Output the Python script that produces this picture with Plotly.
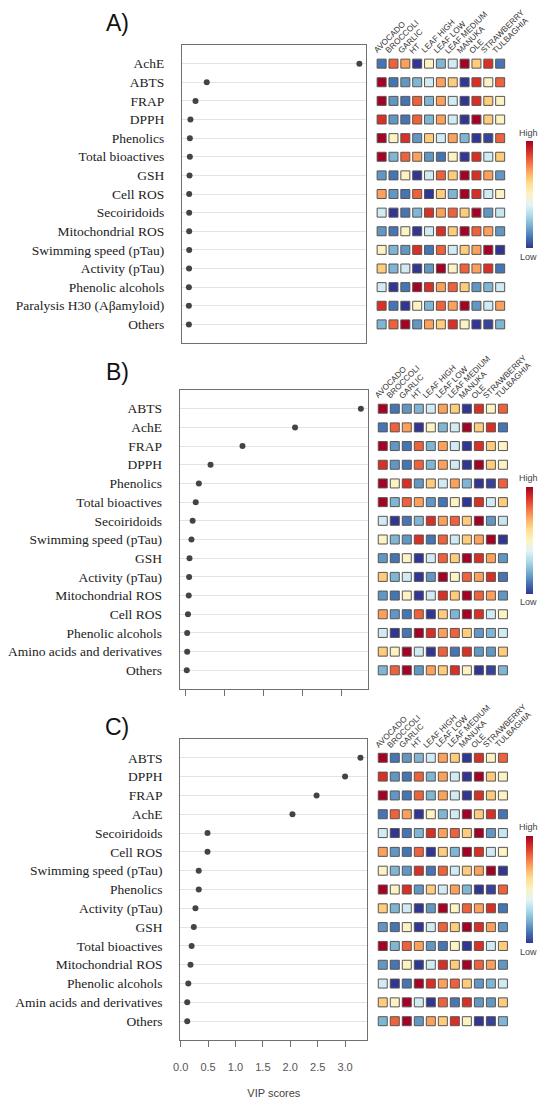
import plotly.graph_objects as go

# the page body adds a margin, so the figure is a bit smaller than the window
OFFX, OFFY = 11, 8
W, H = 550 - 8, 1099 - 8

SAMPLES = ["AVOCADO", "BROCCOLI", "GARLIC", "HT", "LEAF HIGH", "LEAF LOW",
           "LEAF MEDIUM", "MANUKA", "OLE", "STRAWBERRY", "TULBAGHIA"]

# features top -> bottom and VIP scores for each panel
FEAT_A = ["AchE", "ABTS", "FRAP", "DPPH", "Phenolics", "Total bioactives", "GSH",
          "Cell ROS", "Secoiridoids", "Mitochondrial ROS", "Swimming speed (pTau)",
          "Activity (pTau)", "Phenolic alcohols", "Paralysis H30 (Aβamyloid)", "Others"]
VIP_A = [4.43, 0.51, 0.22, 0.09, 0.075, 0.075, 0.067, 0.058, 0.058, 0.058, 0.058,
         0.055, 0.05, 0.05, 0.05]

FEAT_B = ["ABTS", "AchE", "FRAP", "DPPH", "Phenolics", "Total bioactives", "Secoiridoids",
          "Swimming speed (pTau)", "GSH", "Activity (pTau)", "Mitochondrial ROS", "Cell ROS",
          "Phenolic alcohols", "Amino acids and derivatives", "Others"]
VIP_B = [4.49, 2.8, 1.45, 0.63, 0.33, 0.25, 0.17, 0.14, 0.09, 0.08, 0.07, 0.05,
         0.03, 0.03, 0.02]

FEAT_C = ["ABTS", "DPPH", "FRAP", "AchE", "Secoiridoids", "Cell ROS", "Swimming speed (pTau)",
          "Phenolics", "Activity (pTau)", "GSH", "Total bioactives", "Mitochondrial ROS",
          "Phenolic alcohols", "Amin acids and derivatives", "Others"]
VIP_C = [3.28, 3.0, 2.48, 2.04, 0.49, 0.49, 0.33, 0.33, 0.27, 0.24, 0.20, 0.18,
         0.14, 0.12, 0.12]

# relative level per sample (0 = low, 1 = high), same for a feature in every panel
H_ACHE = [0.10, 0.82, 0.72, 0.00, 0.50, 0.22, 0.37, 1.00, 0.64, 0.90, 0.10]
H_ABTS = [1.00, 0.10, 0.16, 0.22, 0.37, 0.72, 0.64, 0.00, 0.90, 0.50, 0.82]
H_FRAP = [1.00, 0.16, 0.10, 0.82, 0.22, 0.72, 0.37, 0.00, 0.90, 0.64, 0.50]
H_DPPH = [0.90, 0.16, 0.10, 0.82, 0.22, 0.72, 0.37, 0.00, 1.00, 0.64, 0.50]
H_PHEN = [1.00, 0.50, 0.90, 0.16, 0.64, 0.37, 0.72, 0.22, 0.00, 0.02, 0.82]
H_TOTAL = [1.00, 0.22, 0.82, 0.72, 0.16, 0.10, 0.50, 0.00, 0.90, 0.37, 0.64]
H_GSH = [0.16, 0.10, 0.50, 0.00, 0.37, 0.82, 0.64, 1.00, 0.90, 0.72, 0.16]
H_CELLROS = [0.72, 0.16, 0.10, 0.82, 0.00, 0.64, 0.22, 1.00, 0.90, 0.37, 0.50]
H_SECO = [0.37, 0.00, 0.10, 0.22, 0.90, 0.72, 0.82, 0.64, 1.00, 0.16, 0.35]
H_MITO = [0.16, 0.10, 0.50, 0.00, 0.37, 0.90, 0.64, 1.00, 0.82, 0.72, 0.16]
H_SWIM = [0.50, 0.22, 0.16, 0.90, 0.10, 0.82, 0.37, 0.64, 0.72, 1.00, 0.00]
H_ACT = [0.64, 0.22, 0.37, 0.00, 0.16, 1.00, 0.50, 0.82, 0.72, 0.90, 0.10]
H_PALC = [0.37, 0.00, 0.10, 1.00, 0.90, 0.72, 0.82, 0.64, 0.16, 0.22, 0.37]
H_PARA = [0.90, 0.10, 0.00, 0.50, 0.22, 0.82, 0.72, 1.00, 0.16, 0.37, 0.72]
H_AMINO = [0.64, 0.50, 1.00, 0.37, 0.00, 0.82, 0.10, 0.90, 0.16, 0.16, 0.64]
H_OTHERS = [0.22, 0.82, 1.00, 0.16, 0.72, 0.64, 0.90, 0.50, 0.00, 0.02, 0.22]

HEAT = {"AchE": H_ACHE, "ABTS": H_ABTS, "FRAP": H_FRAP, "DPPH": H_DPPH,
        "Phenolics": H_PHEN, "Total bioactives": H_TOTAL, "GSH": H_GSH,
        "Cell ROS": H_CELLROS, "Secoiridoids": H_SECO, "Mitochondrial ROS": H_MITO,
        "Swimming speed (pTau)": H_SWIM, "Activity (pTau)": H_ACT,
        "Phenolic alcohols": H_PALC, "Paralysis H30 (Aβamyloid)": H_PARA,
        "Amino acids and derivatives": H_AMINO, "Amin acids and derivatives": H_AMINO,
        "Others": H_OTHERS}

CS = [[0.0, "#313695"], [0.1, "#4575b4"], [0.2, "#74add1"], [0.3, "#abd9e9"],
      [0.4, "#e0f3f8"], [0.5, "#fbf3c4"], [0.6, "#fee090"], [0.7, "#fdae61"],
      [0.8, "#f46d43"], [0.9, "#d73027"], [1.0, "#a50026"]]


def px(x):
    return (x - OFFX) / W


def py(y):
    return 1 - (y - OFFY) / H


# pixel geometry (window coords) of each panel
PANELS = [
    dict(label="A)", feats=FEAT_A, vip=VIP_A, bx=(175.3, 364.3), by=(45, 343),
         hx=(368, 514), cb=(141.7, 248.3), ly=23, ticks=None),
    dict(label="B)", feats=FEAT_B, vip=VIP_B, bx=(173, 366), by=(390, 689),
         hx=(369, 517), cb=(486.7, 593.3), ly=372, ticks=[0, 1, 2, 3, 4]),
    dict(label="C)", feats=FEAT_C, vip=VIP_C, bx=(173.5, 365.5), by=(739, 1040),
         hx=(369, 517), cb=(836, 943), ly=727,
         ticks=[0, 0.5, 1, 1.5, 2, 2.5, 3]),
]

fig = go.Figure()
annos = []
for i, p in enumerate(PANELS):
    a, b = 2 * i + 1, 2 * i + 2
    feats = p["feats"]
    n = len(feats)
    lo, hi = min(p["vip"]), max(p["vip"])
    pad = 0.04 * (hi - lo)
    yd = [py(p["by"][1]), py(p["by"][0])]

    fig.add_trace(go.Scatter(
        x=p["vip"], y=feats, mode="markers", xaxis=f"x{a}", yaxis=f"y{a}",
        marker=dict(color="#444444", size=6), showlegend=False))

    hx, hy, hv = [], [], []
    for f in feats:
        for s, v in zip(SAMPLES, HEAT[f]):
            hx.append(s)
            hy.append(f)
            hv.append(v)
    fig.add_trace(go.Scatter(
        x=hx, y=hy, mode="markers", xaxis=f"x{b}", yaxis=f"y{b}", showlegend=False,
        marker=dict(symbol="square", size=9, color=hv, colorscale=CS, cmin=0, cmax=1,
                    line=dict(color="#5a5550", width=1), showscale=True,
                    colorbar=dict(x=px(528), xanchor="left", xpad=0, ypad=0,
                                  y=py((p["cb"][0] + p["cb"][1]) / 2), yanchor="middle",
                                  len=p["cb"][1] - p["cb"][0], lenmode="pixels",
                                  thickness=7, outlinewidth=0, showticklabels=False,
                                  ticks=""))))

    tk = p["ticks"]
    xa = dict(domain=[px(p["bx"][0]), px(p["bx"][1])], range=[lo - pad, hi + pad],
              anchor=f"y{a}", showline=True, mirror=True, linecolor="#707070",
              linewidth=1.2, showgrid=False, zeroline=False)
    if tk is None:
        xa.update(showticklabels=False, ticks="")
    else:
        xa.update(tickvals=tk, ticks="outside", ticklen=6, tickcolor="#707070",
                  showticklabels=(i == 2), tickformat=".1f", ticklabelstandoff=11,
                  tickfont=dict(family="Liberation Sans", size=11, color="#555555"))
    if i == 2:
        xa.update(title=dict(text="VIP scores", standoff=18,
                             font=dict(family="Liberation Sans", size=11, color="#444444")))
    ya = dict(domain=yd, anchor=f"x{a}", type="category", categoryarray=feats,
              range=[n, -1], showline=True, mirror=True, linecolor="#707070",
              linewidth=1.2, showgrid=True, gridcolor="#e4e4e4", gridwidth=1,
              ticks="", ticklabelstandoff=14,
              tickfont=dict(family="Liberation Serif", size=13.5, color="#222222"))
    fig.update_layout(**{f"xaxis{a}": xa, f"yaxis{a}": ya})

    fig.update_layout(**{
        f"xaxis{b}": dict(domain=[px(p["hx"][0]), px(p["hx"][1])], anchor=f"y{b}",
                          type="category", categoryarray=SAMPLES, range=[-1, len(SAMPLES)],
                          visible=False),
        f"yaxis{b}": dict(domain=yd, anchor=f"x{b}", type="category", categoryarray=feats,
                          range=[n, -1], visible=False),
    })

    # rotated sample names above the heat columns
    unit = (p["hx"][1] - p["hx"][0]) / (len(SAMPLES) + 1)
    top = p["by"][0] + (p["by"][1] - p["by"][0]) / (n + 1) - 5
    for k, s in enumerate(SAMPLES):
        cx = p["hx"][0] + (k + 1) * unit
        annos.append(dict(x=px(cx - 11), y=py(top - 2), xref="paper", yref="paper",
                          text=s, textangle=-45, showarrow=False,
                          xanchor="left", yanchor="bottom", borderpad=0,
                          font=dict(family="Liberation Sans", size=8.2, color="#333333")))
    annos.append(dict(x=px(531), y=py(p["cb"][0] - 9), xref="paper", yref="paper",
                      text="High", showarrow=False, xanchor="center", yanchor="middle",
                      font=dict(family="Liberation Sans", size=9, color="#444444")))
    annos.append(dict(x=px(531), y=py(p["cb"][1] + 9), xref="paper", yref="paper",
                      text="Low", showarrow=False, xanchor="center", yanchor="middle",
                      font=dict(family="Liberation Sans", size=9, color="#444444")))
    annos.append(dict(x=px(109), y=py(p["ly"]), xref="paper", yref="paper",
                      text=p["label"], showarrow=False, xanchor="center", yanchor="middle",
                      font=dict(family="Liberation Sans", size=23, color="#111111")))

fig.update_layout(width=W, height=H, margin=dict(l=0, r=0, t=0, b=0),
                  paper_bgcolor="white", plot_bgcolor="white", annotations=annos)
fig.write_html("out.html")
